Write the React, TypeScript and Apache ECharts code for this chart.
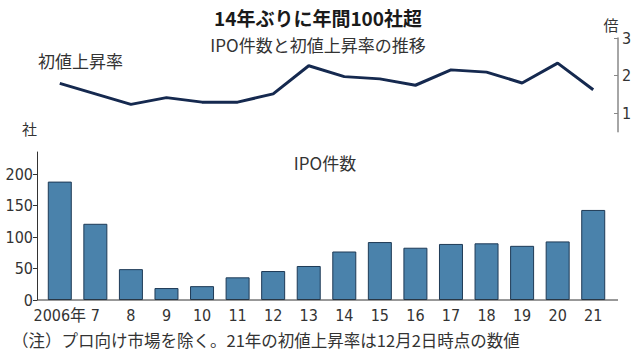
import React, { useEffect, useRef } from "react";
import * as echarts from "echarts";

const years = ["2006年", "7", "8", "9", "10", "11", "12", "13", "14", "15", "16", "17", "18", "19", "20", "21"];
const ipoCounts = [188, 121, 49, 19, 22, 36, 46, 54, 77, 92, 83, 89, 90, 86, 93, 143];
const firstDayRise = [1.79, 1.51, 1.23, 1.41, 1.29, 1.29, 1.51, 2.26, 1.97, 1.91, 1.74, 2.15, 2.09, 1.8, 2.33, 1.62];
const countTicks = [0, 50, 100, 150, 200];
const rateTicks = [1, 2, 3];

const NARROW = "'Liberation Sans Narrow', 'DejaVu Sans Condensed', 'Noto Sans CJK JP', sans-serif";
const CJK = "'Noto Sans CJK JP', 'Noto Sans', sans-serif";

export default function App() {
  const ref = useRef<HTMLDivElement>(null);
  useEffect(() => {
    if (!ref.current) return;
    const chart = echarts.init(ref.current, null, { renderer: "svg" });
    chart.setOption({
      animation: false,
      backgroundColor: "#ffffff",
      grid: [
        { left: 42, right: 27, top: 38, height: 93.75 },
        { left: 42, right: 27, top: 152, height: 148 },
      ],
      xAxis: [
        {
          type: "category",
          gridIndex: 0,
          data: years,
          boundaryGap: true,
          axisLine: { show: false },
          axisTick: { show: false },
          axisLabel: { show: false },
        },
        {
          type: "category",
          gridIndex: 1,
          data: years,
          boundaryGap: true,
          axisLine: { show: false },
          axisTick: { show: false },
          axisLabel: { interval: 0, fontFamily: NARROW, fontSize: 16, color: "#333", margin: 7 },
        },
      ],
      yAxis: [
        {
          type: "value",
          gridIndex: 0,
          position: "right",
          offset: 7,
          min: 0.5,
          max: 3,
          splitLine: { show: false },
          axisLine: { show: true, lineStyle: { color: "#888", width: 1.5 } },
          axisTick: { show: true, inside: true, length: 4, lineStyle: { color: "#888" }, customValues: rateTicks },
          axisLabel: { fontFamily: NARROW, fontSize: 16, color: "#333", margin: 4, customValues: rateTicks },
        },
        {
          type: "value",
          gridIndex: 1,
          position: "left",
          offset: 5,
          min: 0,
          max: 235,
          name: "社",
          nameLocation: "end",
          nameGap: 16,
          nameTextStyle: { fontFamily: CJK, fontSize: 15, color: "#333", align: "right" },
          splitLine: { show: false },
          axisLine: { show: true, lineStyle: { color: "#333", width: 1 } },
          axisTick: { show: true, length: 4, lineStyle: { color: "#333" }, customValues: countTicks },
          axisLabel: { fontFamily: NARROW, fontSize: 16, color: "#333", margin: 4, customValues: countTicks },
        },
      ],
      series: [
        {
          type: "line",
          name: "初値上昇率",
          xAxisIndex: 0,
          yAxisIndex: 0,
          data: firstDayRise,
          symbol: "none",
          lineStyle: { color: "#15294f", width: 3 },
          itemStyle: { color: "#15294f" },
        },
        {
          type: "bar",
          name: "IPO件数",
          xAxisIndex: 1,
          yAxisIndex: 1,
          data: ipoCounts,
          barWidth: 24,
          itemStyle: { color: "#4a82ab", borderColor: "#1e3a56", borderWidth: 1 },
        },
      ],
      graphic: [
        {
          type: "line",
          shape: { x1: 37, y1: 300, x2: 618, y2: 300 },
          style: { stroke: "#333", lineWidth: 1 },
          z: 10,
        },
        {
          type: "text",
          x: 318,
          y: 17,
          style: {
            text: "14年ぶりに年間100社超",
            font: `bold 19px ${CJK}`,
            fill: "#1a1a1a",
            textAlign: "center",
            textVerticalAlign: "middle",
          },
        },
        {
          type: "text",
          x: 318,
          y: 44,
          style: {
            text: "IPO件数と初値上昇率の推移",
            font: `17px ${CJK}`,
            fill: "#333",
            textAlign: "center",
            textVerticalAlign: "middle",
          },
        },
        {
          type: "text",
          x: 38,
          y: 60,
          style: { text: "初値上昇率", font: `17px ${CJK}`, fill: "#333", textAlign: "left", textVerticalAlign: "middle" },
        },
        {
          type: "text",
          x: 611,
          y: 24,
          style: { text: "倍", font: `15px ${CJK}`, fill: "#333", textAlign: "center", textVerticalAlign: "middle" },
        },
        {
          type: "text",
          x: 325,
          y: 162,
          style: { text: "IPO件数", font: `17px ${CJK}`, fill: "#333", textAlign: "center", textVerticalAlign: "middle" },
        },
        {
          type: "text",
          x: 12,
          y: 340,
          style: {
            text: "（注）プロ向け市場を除く。21年の初値上昇率は12月2日時点の数値",
            font: `16.5px ${CJK}`,
            fill: "#333",
            textAlign: "left",
            textVerticalAlign: "middle",
          },
        },
      ],
    });
    return () => chart.dispose();
  }, []);
  return <div ref={ref} style={{ position: "absolute", left: 0, top: 0, width: 638, height: 357 }} />;
}
